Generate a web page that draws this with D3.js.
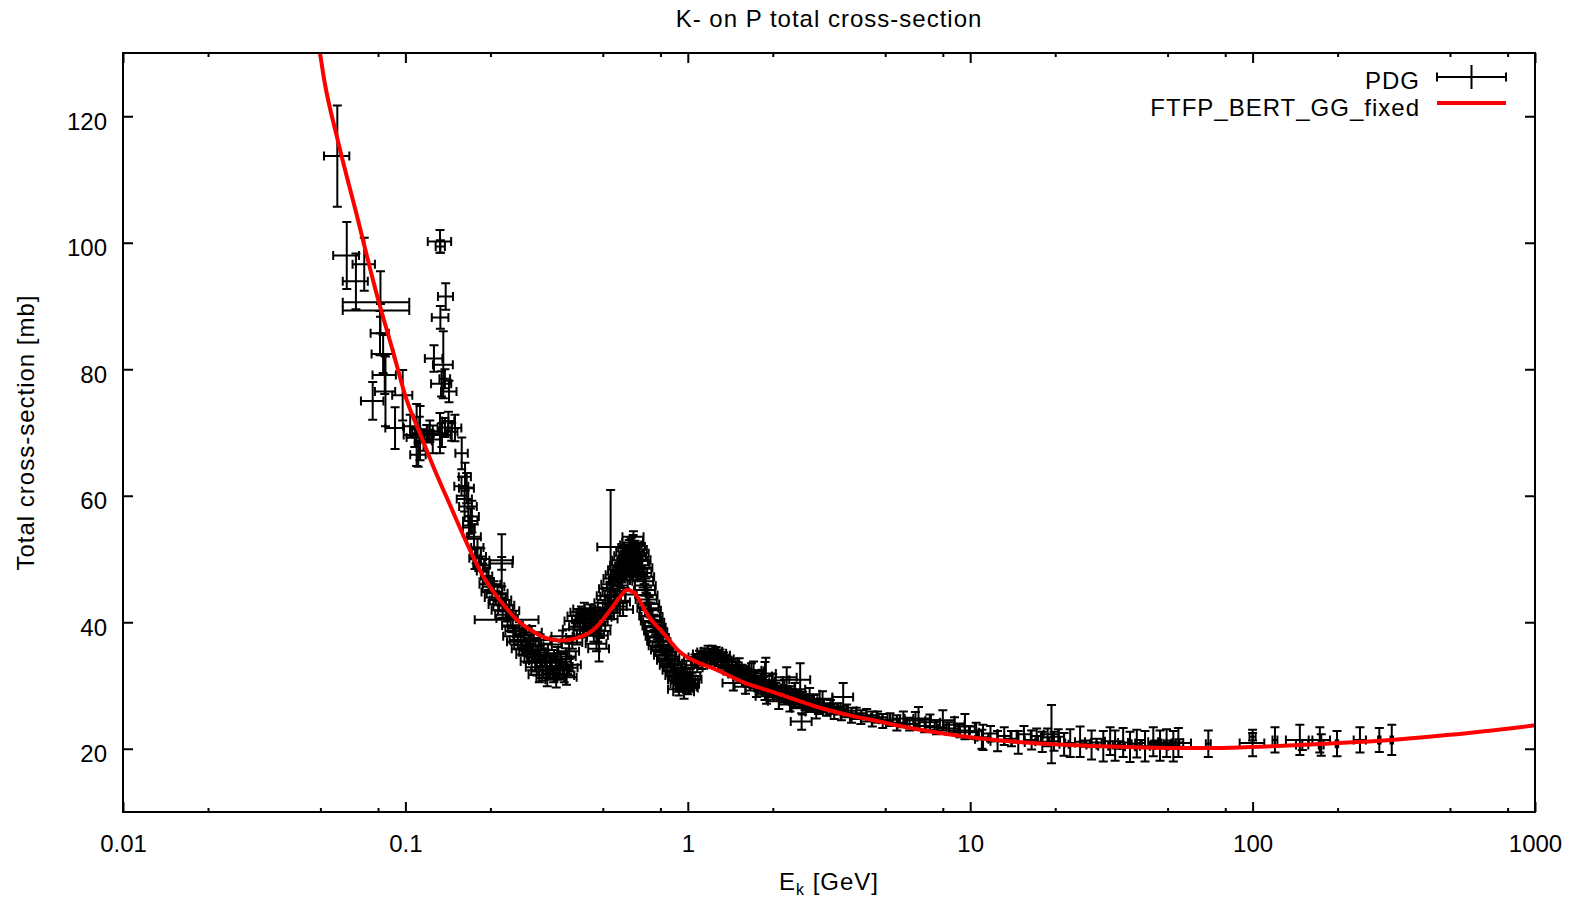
<!DOCTYPE html>
<html><head><meta charset="utf-8">
<script src="https://cdn.jsdelivr.net/npm/d3@7"></script>
<style>body{margin:0;background:#fff} svg text{font-family:"Liberation Sans",Arial,Helvetica,sans-serif;}</style>
</head><body><svg id="chart" width="1580" height="900"></svg>
<script>
const titleText = "K- on P total cross-section";
const xAxisMain = "E", xAxisSub = "k", xAxisUnit = " [GeV]";
const yAxisTitle = "Total cross-section [mb]";
const xTickValues = [0.01, 0.1, 1, 10, 100, 1000];
const xTickLabels = ["0.01", "0.1", "1", "10", "100", "1000"];
const xMinorMultipliers = [2, 5, 8];
const yTickValues = [20, 40, 60, 80, 100, 120];
const seriesNames = ["PDG", "FTFP_BERT_GG_fixed"];

// model curve (FTFP_BERT_GG_fixed)
const modelE = [0.047, 0.0498, 0.0516, 0.0576, 0.0668, 0.0802, 0.090, 0.1011, 0.113, 0.1256, 0.145, 0.165, 0.189, 0.216, 0.248, 0.284, 0.320, 0.352, 0.404, 0.463, 0.531, 0.575, 0.608, 0.642, 0.680, 0.715, 0.819, 0.938, 1.104, 1.231, 1.617, 1.90, 2.12, 2.78, 3.65, 4.54, 5.64, 9.72, 16.7, 28.8, 65.2, 147, 333, 500, 1000];
const modelSigma = [135.1, 130.0, 125.7, 116.2, 104.9, 90.9, 83.1, 75.1, 69.7, 64.6, 58.2, 52.5, 47.2, 43.5, 40.4, 38.5, 37.4, 37.1, 37.5, 38.8, 41.9, 44.0, 45.1, 44.8, 43.2, 41.4, 38.3, 35.3, 33.5, 32.7, 30.3, 29.3, 28.6, 26.8, 25.4, 24.5, 23.6, 21.9, 20.9, 20.4, 20.1, 20.6, 21.5, 22.2, 23.7];

// PDG points: [E, sigma, dE, dSigma]
const pdgLow = [
[0.0574,113.7,0.0059,8.0],[0.0620,98.0,0.0065,5.3],[0.0668,93.9,0.0068,4.4],[0.0715,96.6,0.0065,4.2],
[0.0816,90.6,0.0216,4.9],[0.0816,89.3,0.0216,1.0],[0.0813,85.7,0.0060,3.5],[0.0834,82.4,0.0075,3.0],
[0.0845,79.1,0.0080,3.0],[0.0850,76.5,0.0070,5.5],[0.0766,75.0,0.0070,3.0],[0.0978,75.9,0.0080,4.0],
[0.0919,70.7,0.0070,3.3],[0.1096,69.6,0.0110,4.9],[0.1040,71.0,0.0060,1.8],[0.1080,69.2,0.0070,1.5],
[0.1120,70.5,0.0080,2.0],[0.1160,68.7,0.0080,1.6],[0.1190,69.8,0.0070,1.4],[0.1220,70.2,0.0090,1.7],
[0.1250,68.9,0.0080,2.2],[0.1127,69.9,0.0070,4.3],[0.1110,66.5,0.0070,1.9],
[0.1326,100.2,0.0126,1.8],[0.1330,99.4,0.0050,1.0],[0.1389,91.5,0.0085,2.1],[0.1330,88.2,0.0090,1.8],
[0.1262,81.7,0.0090,2.1],[0.1362,80.7,0.0110,5.3],[0.1343,77.7,0.0110,2.0],[0.1380,78.5,0.0060,1.5],
[0.1427,76.5,0.0090,1.7],[0.1326,69.9,0.0090,3.2],[0.1347,69.6,0.0100,1.9],[0.1380,70.8,0.0080,1.5],
[0.1420,71.8,0.0070,1.5],[0.1459,70.1,0.0070,1.4],[0.1498,70.7,0.0080,2.1],[0.1583,66.7,0.0080,2.5],
[0.1626,63.0,0.0080,2.2],[0.1580,61.5,0.0090,1.5],[0.1620,59.5,0.0100,2.0],[0.1648,61.2,0.0100,2.4],
[0.1670,58.3,0.0120,3.0],[0.1700,56.0,0.0100,2.0],[0.1720,56.7,0.0100,2.5],[0.1680,55.0,0.0080,1.8],
[0.1750,53.5,0.0100,2.0],[0.1764,50.1,0.0080,1.7],[0.1780,50.5,0.0070,1.2],[0.1800,51.8,0.0090,1.4],
[0.1820,49.2,0.0080,1.1],[0.1850,50.4,0.0080,1.3],[0.1880,48.1,0.0090,1.2],[0.1910,49.0,0.0080,1.0],
[0.1940,47.3,0.0090,1.3],[0.1970,46.2,0.0090,1.1]
];
const pdgResonance = [
[0.200,46.0,0.017,1.0],[0.203,44.8,0.017,1.2],[0.206,45.6,0.018,0.9],[0.209,43.9,0.018,1.1],
[0.212,44.6,0.018,1.3],[0.215,42.8,0.018,1.0],[0.218,43.5,0.019,0.9],[0.221,41.9,0.019,1.2],
[0.224,42.7,0.019,1.0],[0.227,41.2,0.019,1.1],[0.230,40.6,0.020,1.3],[0.233,41.8,0.020,0.9],
[0.2193,49.8,0.021,4.1],[0.2193,49.3,0.020,1.0],[0.236,40.4,0.060,1.0],
[0.240,39.5,0.020,1.1],[0.243,37.8,0.021,1.3],[0.247,38.6,0.021,0.9],[0.250,36.9,0.021,1.2],
[0.253,39.0,0.022,1.0],[0.256,37.2,0.022,1.4],[0.260,35.8,0.022,1.1],[0.263,38.1,0.022,0.9],
[0.266,36.4,0.023,1.2],[0.270,34.9,0.023,1.3],[0.273,37.0,0.023,1.0],[0.277,35.5,0.024,1.1],
[0.280,33.8,0.024,1.4],[0.280,38.4,0.024,1.0],[0.284,36.3,0.024,1.2],[0.288,34.6,0.024,1.0],
[0.292,32.9,0.025,1.3],[0.296,35.2,0.025,1.1],[0.298,31.7,0.025,1.2],[0.300,33.9,0.026,1.0],
[0.300,37.2,0.026,0.9],[0.305,32.2,0.026,1.4],[0.310,34.8,0.026,1.1],[0.315,33.1,0.027,1.2],
[0.318,31.2,0.027,1.3],[0.320,35.6,0.027,1.0],[0.325,32.5,0.028,1.2],[0.330,34.0,0.028,1.1],
[0.330,36.5,0.028,0.9],[0.335,31.8,0.028,1.3],[0.340,33.6,0.029,1.0],[0.342,30.9,0.029,1.2],
[0.345,35.0,0.029,1.1],[0.350,32.4,0.030,1.3],[0.355,34.2,0.030,1.0],[0.360,33.0,0.031,1.2],
[0.360,37.8,0.031,0.9],[0.365,31.6,0.031,1.1],[0.370,34.6,0.031,1.3],[0.372,31.3,0.032,1.2],
[0.375,32.8,0.032,1.0],[0.380,35.4,0.032,1.2],[0.385,33.3,0.033,1.1],[0.390,36.8,0.033,1.0],
[0.395,38.9,0.034,1.2],[0.400,40.2,0.034,0.9],[0.405,37.6,0.034,1.1],[0.410,41.0,0.035,1.0],
[0.415,39.3,0.035,1.2],[0.420,41.6,0.036,0.9],[0.425,40.4,0.036,1.1],[0.430,42.1,0.037,1.0],
[0.435,39.8,0.037,1.2],[0.440,41.3,0.037,0.9],[0.445,40.0,0.038,1.1],[0.450,41.8,0.038,1.0],
[0.455,39.1,0.039,1.2],[0.460,40.6,0.039,1.0],[0.465,38.2,0.040,1.3],[0.470,39.5,0.040,1.1],
[0.475,36.6,0.040,1.2],[0.480,37.9,0.041,1.0],[0.485,35.8,0.041,2.0],[0.490,38.6,0.042,1.1],
[0.495,40.8,0.042,1.0],[0.500,42.3,0.043,1.2],[0.505,41.0,0.043,0.9],[0.510,43.1,0.043,1.1],
[0.515,42.0,0.044,1.0],[0.520,44.2,0.044,1.2],[0.520,40.5,0.044,1.0],[0.525,43.0,0.045,0.9],
[0.530,45.3,0.045,1.1],[0.530,41.6,0.045,1.0],[0.533,51.9,0.055,9.0],[0.535,44.1,0.045,1.0],
[0.540,46.0,0.046,1.2],[0.545,45.0,0.046,0.9],[0.550,46.9,0.047,1.1]
];
const pdgPeak = [
[0.555,44.3,0.047,1.0],[0.560,47.5,0.048,1.2],[0.560,42.5,0.048,1.0],[0.565,45.8,0.048,0.9],
[0.570,48.3,0.048,1.1],[0.575,46.6,0.049,1.0],[0.575,43.2,0.049,1.2],[0.580,49.0,0.049,1.2],
[0.585,47.2,0.050,0.9],[0.590,49.8,0.050,1.1],[0.590,42.0,0.050,1.0],[0.595,48.1,0.051,1.0],
[0.600,50.5,0.051,1.2],[0.600,44.4,0.051,1.0],[0.602,47.6,0.051,0.9],[0.605,48.9,0.051,1.0],
[0.610,51.2,0.052,1.1],[0.615,49.6,0.052,0.9],[0.618,48.2,0.053,1.0],[0.620,51.8,0.053,1.2],
[0.625,50.3,0.053,1.0],[0.630,52.2,0.054,1.1],[0.632,49.0,0.054,0.9],[0.635,50.8,0.054,1.0],
[0.640,52.6,0.054,1.2],[0.642,53.5,0.055,0.9],[0.645,51.0,0.055,1.0],[0.648,48.4,0.055,1.1],
[0.650,52.0,0.055,0.9],[0.655,50.4,0.056,1.1],[0.660,51.5,0.056,1.0],[0.662,47.9,0.056,1.2],
[0.665,49.8,0.057,0.9],[0.670,50.9,0.057,1.1],[0.675,49.0,0.057,1.0],[0.680,49.9,0.058,1.2],
[0.685,47.8,0.058,0.9],[0.690,48.6,0.059,1.1],[0.695,46.5,0.059,1.0],[0.700,47.2,0.060,1.2],
[0.705,45.1,0.060,0.9],[0.710,45.8,0.060,1.1],[0.715,43.6,0.061,1.0],[0.720,44.3,0.061,1.2],
[0.725,42.2,0.062,0.9],[0.730,42.9,0.062,1.1],[0.735,41.0,0.062,1.0],[0.740,41.9,0.063,1.2],
[0.745,40.2,0.063,0.9],[0.750,40.9,0.064,1.1],[0.755,39.4,0.064,1.0],[0.760,40.0,0.065,1.2],
[0.765,38.6,0.065,0.9],[0.770,39.2,0.065,1.1],[0.775,37.8,0.066,1.0],[0.780,38.5,0.066,1.2],
[0.785,37.0,0.067,0.9],[0.790,37.6,0.067,1.1],[0.795,36.3,0.068,1.0],[0.800,36.9,0.068,1.2],
[0.810,35.6,0.069,0.9],[0.820,36.0,0.070,1.1],[0.830,34.8,0.071,1.0],[0.840,35.2,0.071,1.2],
[0.850,34.0,0.072,0.9],[0.860,34.3,0.073,1.1],[0.870,33.2,0.074,1.0],[0.880,33.5,0.075,1.2],
[0.890,32.4,0.076,0.9],[0.900,32.8,0.077,1.1],[0.910,31.6,0.077,1.0],[0.920,32.0,0.078,1.2],
[0.930,30.9,0.079,0.9],[0.930,29.4,0.079,1.0],[0.940,31.3,0.080,1.1],[0.950,30.3,0.081,1.0],
[0.960,31.0,0.082,1.2],[0.970,30.0,0.082,0.9],[0.970,29.0,0.082,1.1],[0.980,30.8,0.083,1.1],
[0.990,29.8,0.084,1.0],[1.000,30.9,0.085,1.2],[1.000,29.6,0.085,1.0],[1.010,30.2,0.086,0.9],
[1.020,31.5,0.087,1.1],[1.030,31.0,0.088,1.0]
];
const pdgMid = [
[1.04,32.8,0.088,1.2],[1.06,33.9,0.090,1.0],[1.08,33.2,0.092,1.1],[1.10,34.5,0.094,1.0],
[1.12,33.8,0.095,1.2],[1.14,35.0,0.097,0.9],[1.16,34.2,0.099,1.1],[1.18,35.3,0.100,1.0],
[1.20,34.6,0.102,1.2],[1.22,35.4,0.104,0.9],[1.24,34.7,0.105,1.1],[1.26,35.1,0.107,1.0],
[1.28,34.3,0.109,1.2],[1.30,34.8,0.110,0.9],[1.32,33.9,0.112,1.1],[1.34,34.2,0.114,1.0],
[1.36,33.3,0.116,1.2],[1.38,33.7,0.117,0.9],[1.40,32.8,0.119,1.1],[1.43,33.1,0.122,1.0],
[1.45,30.4,0.123,1.2],[1.46,32.3,0.124,0.9],[1.49,32.6,0.127,1.1],[1.52,31.8,0.129,1.0],
[1.52,33.0,0.129,1.3],[1.55,32.1,0.132,1.2],[1.58,31.4,0.134,0.9],[1.60,29.8,0.136,1.1],
[1.61,31.7,0.137,1.0],[1.64,31.0,0.139,1.2],[1.67,31.3,0.142,0.9],[1.68,32.4,0.143,1.1],
[1.70,30.6,0.145,1.0],[1.71,32.3,0.145,1.5],[1.73,30.9,0.147,1.2],[1.75,29.2,0.149,1.0],
[1.76,30.3,0.150,1.1],[1.79,30.6,0.152,0.9],[1.82,29.9,0.155,1.2],[1.83,31.5,0.156,1.0],
[1.85,30.2,0.157,1.1],[1.876,30.7,0.160,3.0],[1.88,29.6,0.160,1.0],[1.89,31.9,0.160,2.5],
[1.90,28.3,0.162,1.2],[1.91,29.9,0.162,0.9],[1.94,29.3,0.165,1.1],[1.97,29.6,0.167,1.0],
[2.00,29.0,0.170,1.2],[2.00,30.8,0.170,1.0],[2.05,29.3,0.174,1.1],[2.10,28.7,0.179,0.9],
[2.10,27.5,0.179,1.2],[2.15,29.0,0.183,1.0],[2.20,28.4,0.187,1.1],[2.20,29.9,0.187,1.0],
[2.24,31.3,0.190,1.6],[2.25,28.7,0.191,1.2],[2.30,28.1,0.196,0.9],[2.30,27.0,0.196,1.1],
[2.35,28.4,0.200,1.0],[2.40,27.8,0.204,1.2],[2.40,29.4,0.204,1.0],[2.45,28.1,0.208,1.1],
[2.50,27.5,0.213,0.9],[2.50,30.9,0.213,2.6],[2.53,24.3,0.215,1.3],[2.55,27.9,0.217,1.1],
[2.55,26.4,0.217,1.0],[2.60,27.3,0.221,1.2],[2.65,27.6,0.225,0.9],[2.70,27.0,0.230,1.1],
[2.70,28.6,0.230,1.0],[2.80,27.3,0.238,1.2],[2.85,25.8,0.242,1.0],[2.90,26.6,0.247,1.1],
[3.00,26.9,0.255,0.9],[3.00,27.9,0.255,1.2],[3.10,26.2,0.264,1.0],[3.20,26.6,0.272,1.1],
[3.30,25.9,0.281,1.2],[3.40,26.3,0.289,0.9],[3.50,25.6,0.298,1.1],[3.55,28.2,0.300,2.2],
[3.65,26.0,0.310,1.0],[3.80,25.3,0.323,1.2],[3.95,25.6,0.336,0.9],[4.10,25.0,0.349,1.1],
[4.30,25.3,0.366,1.0],[4.50,24.7,0.383,1.2],[4.70,25.0,0.400,0.9],[4.90,24.4,0.417,1.1],
[5.20,24.6,0.44,1.0],[5.50,24.1,0.47,1.2],[5.80,24.8,0.49,1.1],[6.10,23.9,0.52,1.0],
[6.40,24.5,0.54,1.3],[6.56,24.8,0.70,1.8],[6.90,23.6,0.59,1.0],[7.20,24.2,0.61,1.2],
[7.60,23.4,0.65,1.1],[8.00,24.5,0.80,1.6],[8.40,23.2,0.71,1.0],[8.80,23.8,0.75,1.2],
[9.20,22.9,0.78,1.1],[9.58,23.5,0.80,2.0],[9.90,22.6,0.84,1.0]
];
const pdgHigh = [
[10.5,22.8,0.6,1.3],[11.0,21.5,0.6,1.5],[11.1,21.8,0.5,2.0],[11.8,22.4,0.7,1.2],
[12.5,21.2,0.7,1.6],[13.2,22.0,0.7,1.4],[14.0,21.6,0.8,1.2],[14.8,21.0,0.8,1.8],
[15.5,22.3,0.9,1.3],[16.5,21.4,0.9,1.5],[17.2,22.0,0.8,1.2],[18.0,21.1,1.0,1.6],
[18.8,21.8,1.0,1.4],[19.4,22.3,1.2,4.6],[19.8,21.2,1.0,1.5],[20.5,21.9,1.0,1.2],
[21.5,20.7,0.8,1.8],[22.6,20.9,0.9,2.2],[24.5,21.1,1.0,2.4],[25.5,20.8,1.0,0.5],
[26.9,20.6,1.1,2.3],[28.0,21.0,1.2,0.6],[29.6,20.4,1.2,2.4],[31.3,21.2,1.3,2.2],
[32.6,20.5,1.3,2.4],[33.5,20.6,1.5,0.6],[34.8,21.0,1.4,2.3],[36.8,20.3,1.5,2.4],
[38.9,20.8,1.6,2.2],[40.0,20.9,1.6,0.5],[41.6,20.4,1.7,2.4],[44.5,21.1,1.8,2.3],
[45.5,20.7,1.8,0.6],[47.0,20.5,1.9,2.4],[49.6,20.9,2.0,2.2],[51.0,20.8,2.5,0.5],
[52.4,20.4,2.1,2.4],[54.6,21.0,2.2,2.3],[55.0,20.9,5.5,0.6],[69.7,20.8,1.4,2.1],
[100,20.9,10,2.1],[100,21.9,2.5,0.6],[120,21.4,2.4,2.0],[147,21.4,15.8,2.4],
[150,20.6,7.5,0.8],[173,21.4,15,2.0],[175,20.6,3.5,1.7],[199,20.8,2.0,2.0],
[240,21.4,12,2.0],[281,21.4,2.8,1.9],[311,21.4,3.1,2.4]
];

const svg = d3.select("#chart");
const plot = {left: 123, right: 1535, top: 53, bottom: 812};
const x = d3.scaleLog().domain([0.01, 1000]).range([plot.left, plot.right]);
const y = d3.scaleLinear().domain([10, 130]).range([plot.bottom, plot.top]);
const FONT = "'Liberation Sans', Arial, Helvetica, sans-serif";

svg.append("rect").attr("width", 1580).attr("height", 900).attr("fill", "#fff");
svg.append("defs").append("clipPath").attr("id", "clip").append("rect")
  .attr("x", plot.left).attr("y", plot.top)
  .attr("width", plot.right - plot.left).attr("height", plot.bottom - plot.top);

// minor x ticks
const minorX = [];
xTickValues.slice(0, -1).forEach(d => xMinorMultipliers.forEach(m => minorX.push(d * m)));

function style(g) {
  g.select(".domain").remove();
  g.attr("font-family", FONT).attr("font-size", 24);
  g.selectAll("line").attr("stroke", "#000").attr("stroke-width", 2);
  g.selectAll("text").attr("fill", "#000");
}
// bottom
svg.append("g").attr("transform", `translate(0,${plot.bottom})`)
  .call(d3.axisBottom(x).tickValues(minorX).tickFormat("").tickSizeInner(-4).tickSizeOuter(0)).call(style);
svg.append("g").attr("transform", `translate(0,${plot.bottom})`)
  .call(d3.axisBottom(x).tickValues(xTickValues).tickFormat((d, i) => xTickLabels[i]).tickSizeInner(-10).tickSizeOuter(0).tickPadding(23)).call(style);
// top
svg.append("g").attr("transform", `translate(0,${plot.top})`)
  .call(d3.axisTop(x).tickValues(minorX).tickFormat("").tickSizeInner(-4).tickSizeOuter(0)).call(style);
svg.append("g").attr("transform", `translate(0,${plot.top})`)
  .call(d3.axisTop(x).tickValues(xTickValues).tickFormat("").tickSizeInner(-10).tickSizeOuter(0)).call(style);
// left
const gl = svg.append("g").attr("transform", `translate(${plot.left},0)`)
  .call(d3.axisLeft(y).tickValues(yTickValues).tickSizeInner(-10).tickSizeOuter(0).tickPadding(16)).call(style);
gl.selectAll("text").attr("dy", "0.54em");
// right
svg.append("g").attr("transform", `translate(${plot.right},0)`)
  .call(d3.axisRight(y).tickValues(yTickValues).tickFormat("").tickSizeInner(-10).tickSizeOuter(0)).call(style);

// PDG data
const pdg = [].concat(pdgLow, pdgResonance, pdgPeak, pdgMid, pdgHigh);
const cap = 4.5;
svg.append("g").attr("clip-path", "url(#clip)")
  .selectAll("path").data(pdg).join("path")
  .attr("d", d => {
    const [e, s, de, ds] = d;
    const cx = x(e), cy = y(s), x0 = x(e - de), x1 = x(e + de), y0 = y(s - ds), y1 = y(s + ds);
    return `M${x0},${cy}H${x1}M${x0},${cy - cap}V${cy + cap}M${x1},${cy - cap}V${cy + cap}` +
           `M${cx},${y0}V${y1}M${cx - cap},${y0}H${cx + cap}M${cx - cap},${y1}H${cx + cap}`;
  })
  .attr("fill", "none").attr("stroke", "#000").attr("stroke-width", 2);

// model line
const modelPts = modelE.map((e, i) => [e, modelSigma[i]]);
const line = d3.line().x(d => x(d[0])).y(d => y(d[1])).curve(d3.curveMonotoneX);
svg.append("path").datum(modelPts).attr("clip-path", "url(#clip)")
  .attr("d", line).attr("fill", "none").attr("stroke", "#ff0000")
  .attr("stroke-width", 4).attr("stroke-linejoin", "round");

// frame
svg.append("rect").attr("x", plot.left).attr("y", plot.top)
  .attr("width", plot.right - plot.left).attr("height", plot.bottom - plot.top)
  .attr("fill", "none").attr("stroke", "#000").attr("stroke-width", 2);

// title
svg.append("text").attr("x", (plot.left + plot.right) / 2).attr("y", 27)
  .attr("text-anchor", "middle").attr("font-size", 24).attr("letter-spacing", "1px")
  .attr("font-family", FONT).text(titleText);
// x label
const xl = svg.append("text").attr("x", (plot.left + plot.right) / 2).attr("y", 890)
  .attr("text-anchor", "middle").attr("font-size", 24).attr("letter-spacing", "1px").attr("font-family", FONT);
xl.append("tspan").text(xAxisMain);
xl.append("tspan").attr("dy", 5).attr("font-size", 16).text(xAxisSub);
xl.append("tspan").attr("dy", -5).text(xAxisUnit);
// y label
svg.append("text").attr("transform", `translate(34,${(plot.top + plot.bottom) / 2}) rotate(-90)`)
  .attr("text-anchor", "middle").attr("font-size", 24).attr("letter-spacing", "1px")
  .attr("font-family", FONT).text(yAxisTitle);

// legend
const lg = svg.append("g").attr("font-family", FONT).attr("font-size", 24);
lg.append("text").attr("x", 1420).attr("y", 89).attr("text-anchor", "end").attr("letter-spacing", "1px").text(seriesNames[0]);
lg.append("text").attr("x", 1420).attr("y", 116).attr("text-anchor", "end").attr("letter-spacing", "1px").text(seriesNames[1]);
const lx0 = 1437, lx1 = 1506, ly = 77;
lg.append("path").attr("d", `M${lx0},${ly}H${lx1}M${lx0},${ly - cap}V${ly + cap}M${lx1},${ly - cap}V${ly + cap}M${(lx0 + lx1) / 2},${ly - 12}V${ly + 12}`)
  .attr("stroke", "#000").attr("stroke-width", 2).attr("fill", "none");
lg.append("path").attr("d", `M${lx0},103H${lx1}`).attr("stroke", "#ff0000").attr("stroke-width", 4);
</script></body></html>
